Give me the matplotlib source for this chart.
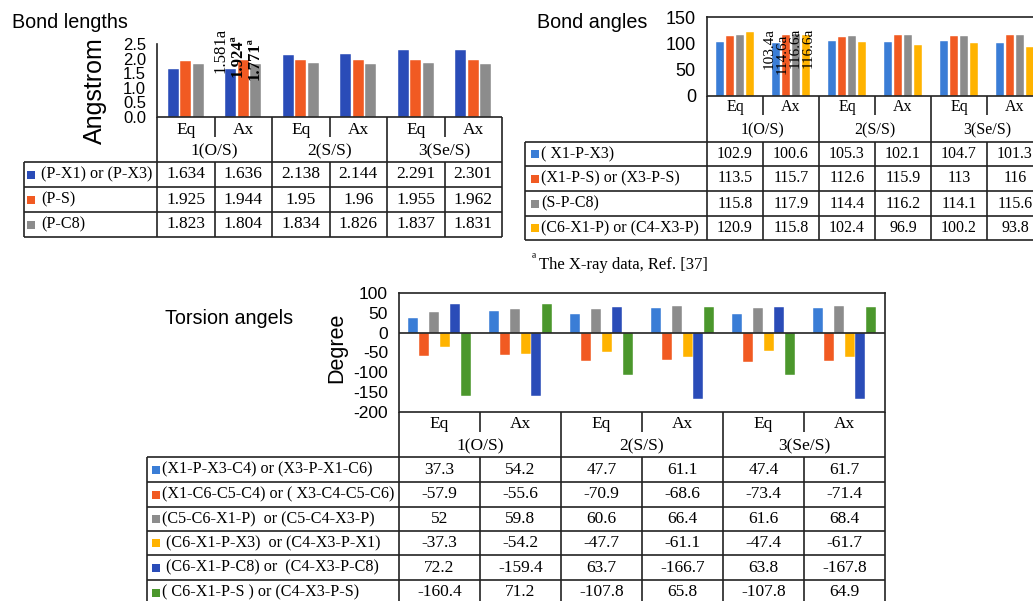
import numpy as np
import matplotlib.pyplot as plt

plt.rcParams['font.family'] = 'sans-serif'
plt.rcParams['font.sans-serif'] = ['Liberation Sans', 'DejaVu Sans']
SERIF = 'Liberation Serif'

W, H = 1033, 601

groups = ["1(O/S)", "2(S/S)", "3(Se/S)"]
states = ["Eq", "Ax", "Eq", "Ax", "Eq", "Ax"]

# bond lengths (Angstrom)
bl_names = ["(P-X1) or (P-X3)", "(P-S)", "(P-C8)"]
bl_px = [1.634, 1.636, 2.138, 2.144, 2.291, 2.301]
bl_ps = [1.925, 1.944, 1.95, 1.96, 1.955, 1.962]
bl_pc8 = [1.823, 1.804, 1.834, 1.826, 1.837, 1.831]
bl_xray = ["1.581a", "1.924ª", "1.771ª"]

# bond angles (degree)
ba_names = ["( X1-P-X3)", "(X1-P-S) or (X3-P-S)", "(S-P-C8)", "(C6-X1-P) or (C4-X3-P)"]
ba_xpx = [102.9, 100.6, 105.3, 102.1, 104.7, 101.3]
ba_xps = [113.5, 115.7, 112.6, 115.9, 113, 116]
ba_spc8 = [115.8, 117.9, 114.4, 116.2, 114.1, 115.6]
ba_cxp = [120.9, 115.8, 102.4, 96.9, 100.2, 93.8]
ba_xray = ["103.4a", "114.6a", "116.6a", "116.6a"]

# torsion angles (degree)
ta_names = ["(X1-P-X3-C4) or (X3-P-X1-C6)", "(X1-C6-C5-C4) or ( X3-C4-C5-C6)",
            "(C5-C6-X1-P)  or (C5-C4-X3-P)", " (C6-X1-P-X3)  or (C4-X3-P-X1)",
            " (C6-X1-P-C8) or  (C4-X3-P-C8)", "( C6-X1-P-S ) or (C4-X3-P-S)"]
ta_1 = [37.3, 54.2, 47.7, 61.1, 47.4, 61.7]
ta_2 = [-57.9, -55.6, -70.9, -68.6, -73.4, -71.4]
ta_3 = [52, 59.8, 60.6, 66.4, 61.6, 68.4]
ta_4 = [-37.3, -54.2, -47.7, -61.1, -47.4, -61.7]
ta_5 = [72.2, -159.4, 63.7, -166.7, 63.8, -167.8]
ta_6 = [-160.4, 71.2, -107.8, 65.8, -107.8, 64.9]

LBLUE = '#3A7DD6'
ORANGE = '#F15A22'
GRAY = '#8C8C8C'
YELLOW = '#FFB300'
DBLUE = '#2A4CB8'
GREEN = '#4B972C'
LINE = '#222222'

fig = plt.figure(figsize=(W / 100, H / 100), dpi=100)

# overlay in pixel coordinates for the tables and free text
ov = fig.add_axes([0, 0, 1, 1], zorder=5)
ov.set_xlim(0, W)
ov.set_ylim(H, 0)
ov.axis('off')


def px_rect(x0, y0, x1, y1):
    return [x0 / W, 1 - y1 / H, (x1 - x0) / W, (y1 - y0) / H]


def bar_chart(box, series, colors, width, pitch, ylim, yticks, fmt, spines, fs):
    ax = fig.add_axes(px_rect(*box))
    x = np.arange(6)
    n = len(series)
    for i, (vals, c) in enumerate(zip(series, colors)):
        ax.bar(x + (i - (n - 1) / 2) * pitch, vals, width, color=c,
               edgecolor='white', linewidth=0.3, zorder=2)
    ax.set_xlim(-0.5, 5.5)
    ax.set_ylim(*ylim)
    ax.set_yticks(yticks)
    ax.set_yticklabels([fmt.format(t) for t in yticks])
    ax.set_xticks([])
    ax.tick_params(axis='y', length=0, pad=8, labelsize=fs)
    for s in ['top', 'right', 'bottom', 'left']:
        ax.spines[s].set_visible(s in spines)
        ax.spines[s].set_color(LINE)
        ax.spines[s].set_linewidth(1.2)
    ax.patch.set_alpha(0)
    return ax


def line(xs, ys):
    ov.plot(xs, ys, color=LINE, lw=1.2, solid_capstyle='butt')


def data_table(left, x0, x1, top, sub_y, div_end, grp_y, rows_y, names, colors,
               values, fs, name_fs, sq_x, txt_x):
    edges = np.linspace(x0, x1, 7)
    cent = (edges[:-1] + edges[1:]) / 2
    line([x0, x1], [top, top])
    for k, e in enumerate(edges):
        if k % 2 == 0:
            line([e, e], [top, rows_y[-1]])
        else:
            line([e, e], [top, div_end])
            line([e, e], [rows_y[0], rows_y[-1]])
    line([left, left], [rows_y[0], rows_y[-1]])
    for y in rows_y:
        line([left, x1], [y, y])
    for j in range(6):
        ov.text(cent[j], sub_y, states[j], ha='center', va='center',
                family=SERIF, fontsize=fs)
    for g in range(3):
        ov.text((edges[2 * g] + edges[2 * g + 2]) / 2, grp_y, groups[g],
                ha='center', va='center', family=SERIF, fontsize=fs)
    for r, (name, c, vals) in enumerate(zip(names, colors, values)):
        ym = (rows_y[r] + rows_y[r + 1]) / 2
        if ym > H:
            ym = rows_y[r] + 11
        ov.plot(sq_x, ym, 's', color=c, ms=5.5, mew=0)
        ov.text(txt_x, ym, name, ha='left', va='center', family=SERIF,
                fontsize=name_fs)
        for j, v in enumerate(vals):
            ov.text(cent[j], ym, f"{v:g}", ha='center', va='center',
                    family=SERIF, fontsize=fs)


# ---------- Bond lengths ----------
ov.text(12, 23, "Bond lengths", fontsize=14.2, va='center', ha='left')
ax1 = bar_chart((157, 44, 502, 117), [bl_px, bl_ps, bl_pc8], [DBLUE, ORANGE, GRAY],
                0.19, 0.217, (0, 2.5), [0, 0.5, 1.0, 1.5, 2.0, 2.5], "{:.1f}",
                ['left'], 12)
ov.text(95, 91, "Angstrom", rotation=90, fontsize=18, ha='center', va='center')
for i, (lab, dx, y) in enumerate(zip(bl_xray, [-0.40, -0.09, 0.19], [2.29, 2.1, 2.0])):
    ax1.text(1 + dx, y, lab, rotation=90, ha='center', va='center',
             family=SERIF, fontsize=12, fontweight='normal' if i == 0 else 'bold',
             clip_on=False, zorder=4)
data_table(24, 157, 502, 117, 130, 137, 151, [162, 187, 212, 237], bl_names,
           [DBLUE, ORANGE, GRAY], [bl_px, bl_ps, bl_pc8], 12.5, 11.6, 31, 41)

# ---------- Bond angles ----------
ov.text(537, 22, "Bond angles", fontsize=14.2, va='center', ha='left')
ax2 = bar_chart((707, 17, 1043, 96), [ba_xpx, ba_xps, ba_spc8, ba_cxp],
                [LBLUE, ORANGE, GRAY, YELLOW], 0.15, 0.18, (0, 150),
                [0, 50, 100, 150], "{:d}", ['left', 'top'], 13)
for i, (lab, y) in enumerate(zip(ba_xray, [90, 80, 91, 92])):
    ax2.text(1 - 0.045 + (i - 1.5) * 0.23, y, lab, rotation=90,
             ha='center', va='center', family=SERIF, fontsize=11,
             clip_on=False, zorder=4)
data_table(525, 707, 1043, 96, 107, 115, 130, [142, 166, 191, 216, 240], ba_names,
           [LBLUE, ORANGE, GRAY, YELLOW], [ba_xpx, ba_xps, ba_spc8, ba_cxp], 11.5,
           11.5, 535, 541)
ov.text(532, 259, "ª", family=SERIF, fontsize=11, ha='left', va='center')
ov.text(539, 265, "The X-ray data, Ref. [37]", family=SERIF, fontsize=12,
        ha='left', va='center')

# ---------- Torsion angles ----------
ov.text(165, 319, "Torsion angels", fontsize=14.2, va='center', ha='left')
ax3 = bar_chart((399, 293, 885, 412), [ta_1, ta_2, ta_3, ta_4, ta_5, ta_6],
                [LBLUE, ORANGE, GRAY, YELLOW, DBLUE, GREEN], 0.122, 0.13,
                (-200, 100), [-200, -150, -100, -50, 0, 50, 100], "{:d}",
                ['left', 'top', 'right'], 12.5)
ax3.axhline(0, color=LINE, lw=1.2, zorder=3)
ov.text(337, 348, "Degree", rotation=90, fontsize=15.5, ha='center', va='center')
data_table(147, 399, 885, 412, 424, 432, 446, [457, 482, 507, 531, 555, 580, 605],
           ta_names, [LBLUE, ORANGE, GRAY, YELLOW, DBLUE, GREEN],
           [ta_1, ta_2, ta_3, ta_4, ta_5, ta_6], 12.5, 11.6, 156, 162)

fig.savefig("out.png", dpi=100)
